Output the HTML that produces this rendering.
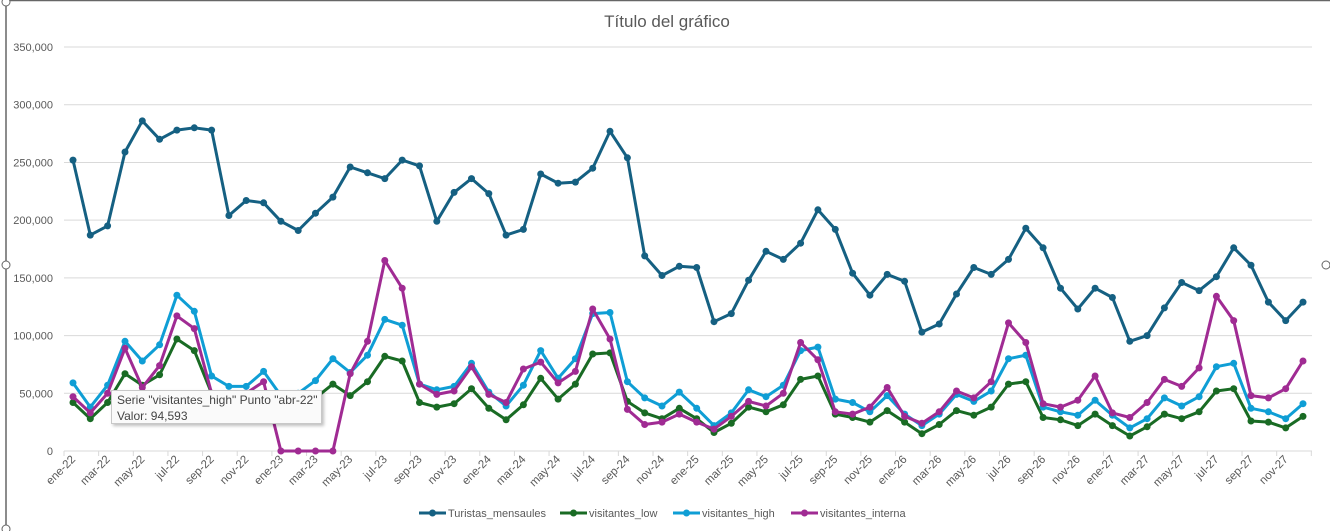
<!DOCTYPE html>
<html><head><meta charset="utf-8"><style>
html,body{margin:0;padding:0;background:#fff;}
body{width:1330px;height:531px;overflow:hidden;position:relative;font-family:"Liberation Sans",sans-serif;}
#tt{position:absolute;left:111px;top:390px;width:211px;height:34px;background:#fafafa;border:1px solid #c8c8c8;box-shadow:2px 2px 3px rgba(0,0,0,0.25);font-size:12px;color:#444;line-height:16px;padding:1px 0 0 5px;box-sizing:border-box;white-space:nowrap;overflow:hidden;}
</style></head><body>
<svg id="s" width="1330" height="531" xmlns="http://www.w3.org/2000/svg" style="position:absolute;left:0;top:0">
<line x1="6" y1="0" x2="6" y2="531" stroke="#666" stroke-width="1.5"/>
<line x1="6" y1="0.5" x2="1330" y2="0.5" stroke="#666" stroke-width="1.5"/>
<circle cx="6" cy="265" r="4" fill="#fff" stroke="#666"/>
<circle cx="1326" cy="265" r="4" fill="#fff" stroke="#666"/>
<circle cx="6" cy="2" r="4" fill="#fff" stroke="#666"/>
<circle cx="6" cy="529" r="4" fill="#fff" stroke="#666"/>
<text x="667" y="27" text-anchor="middle" font-size="17" fill="#595959" font-family="Liberation Sans, sans-serif">Título del gráfico</text>
<g id="g"></g>
</svg>
<div id="tt">Serie "visitantes_high" Punto "abr-22"<br>Valor: 94,593</div>
<script>
var T=[252,187,195,259,286,270,278,280,278,204,217,215,199,191,206,220,246,241,236,252,247,199,224,236,223,187,192,240,232,233,245,277,254,169,152,160,159,112,119,148,173,166,180,209,192,154,135,153,147,103,110,136,159,153,166,193,176,141,123,141,133,95,100,124,146,139,151,176,161,129,113,129];
var L=[42,28,42,67,57,66,97,87,50,42,38,38,35,38,46,58,48,60,82,78,42,38,41,54,37,27,40,63,45,58,84,85,43,33,28,37,28,16,24,38,34,40,62,65,32,29,25,35,25,15,23,35,31,38,58,60,29,27,22,32,22,13,21,32,28,34,52,54,26,25,20,30];
var H=[59,38,57,95,78,92,135,121,65,56,56,69,48,50,61,80,68,83,114,109,58,53,56,76,51,39,57,87,63,80,119,120,60,46,39,51,37,22,33,53,47,57,87,90,45,42,34,48,32,22,32,49,43,52,80,83,38,34,31,44,31,20,28,46,39,47,73,76,37,34,28,41];
var I=[47,33,50,89,55,74,117,106,50,45,50,60,0,0,0,0,67,95,165,141,58,49,52,73,49,42,71,77,59,69,123,97,36,23,25,32,25,19,30,43,39,50,94,79,34,32,38,55,30,24,34,52,46,60,111,94,41,38,44,65,33,29,42,62,56,72,134,113,48,46,54,78];
var g=document.getElementById('g'),h='';
function X(i){return 73+i*17.324;}function Y(v){return 451-v*404/350;}
for(var k=0;k<=7;k++){var y=451-k*57.71;h+='<line x1="64" x2="1312" y1="'+y+'" y2="'+y+'" stroke="#d9d9d9" stroke-width="1"/>';
h+='<text x="53" y="'+(y+4)+'" text-anchor="end" font-size="11" fill="#595959">'+(k==0?'0':(k*50)+',000')+'</text>';}
for(var i=0;i<=72;i+=2){var x=64+i*17.324;h+='<line x1="'+x+'" x2="'+x+'" y1="451" y2="456" stroke="#d9d9d9"/>';}
var m=['ene','feb','mar','abr','may','jun','jul','ago','sep','oct','nov','dic'];
for(var i=0;i<72;i+=2){var lab=m[i%12]+'-'+(22+Math.floor(i/12));var x=X(i)+3,y=460;
h+='<text transform="translate('+x+','+y+') rotate(-45)" text-anchor="end" font-size="11.5" fill="#595959">'+lab+'</text>';}
function ser(d,c){var p='';for(var i=0;i<d.length;i++)p+=(i?'L':'M')+X(i).toFixed(1)+' '+Y(d[i]).toFixed(1);
var s='<path d="'+p+'" fill="none" stroke="'+c+'" stroke-width="3" stroke-linejoin="round"/>';
for(var i=0;i<d.length;i++)s+='<circle cx="'+X(i).toFixed(1)+'" cy="'+Y(d[i]).toFixed(1)+'" r="3.5" fill="'+c+'"/>';return s;}
h+=ser(T,'#156082')+ser(L,'#196B24')+ser(H,'#0F9ED5')+ser(I,'#A02B93');
var lg=[[419,'#156082','Turistas_mensaules'],[560,'#196B24','visitantes_low'],[673,'#0F9ED5','visitantes_high'],[791,'#A02B93','visitantes_interna']];
lg.forEach(function(a){h+='<line x1="'+a[0]+'" x2="'+(a[0]+27)+'" y1="513" y2="513" stroke="'+a[1]+'" stroke-width="3"/><circle cx="'+(a[0]+13.5)+'" cy="513" r="3.5" fill="'+a[1]+'"/><text x="'+(a[0]+29)+'" y="517" font-size="11" fill="#595959">'+a[2]+'</text>';});
g.innerHTML=h;
</script>
</body></html>
